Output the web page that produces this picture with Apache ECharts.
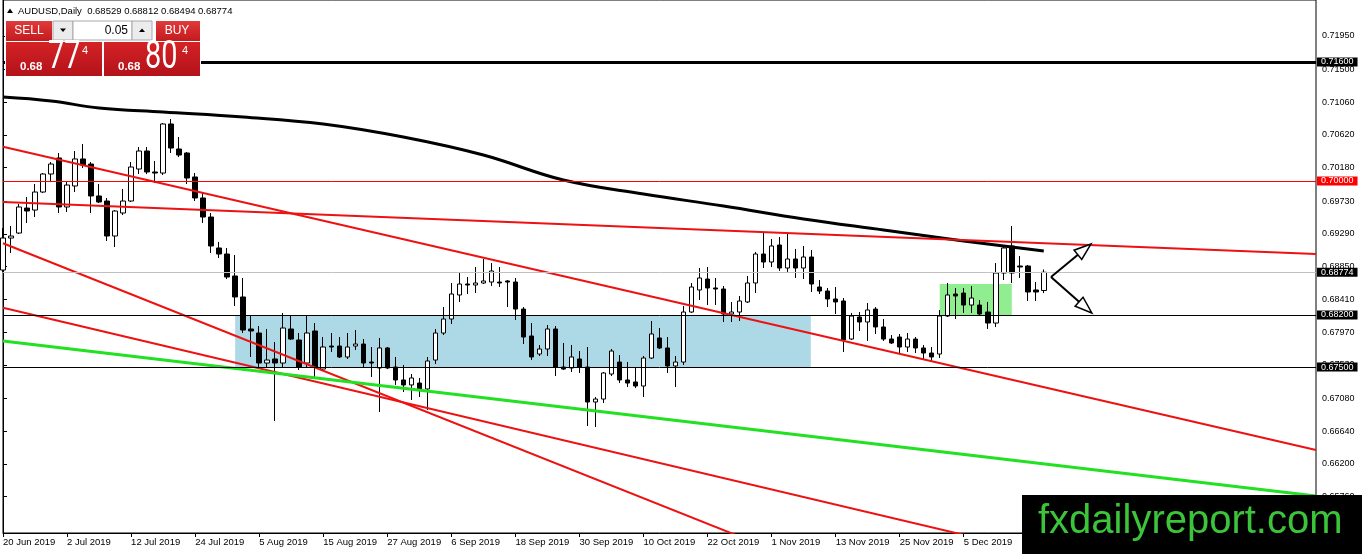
<!DOCTYPE html>
<html lang="en">
<head>
<meta charset="UTF-8">
<title>AUDUSD Daily</title>
<style>
  html, body { margin: 0; padding: 0; background: #fff; }
  #main { width: 1362px; height: 554px; }
</style>
</head>
<body>
<div id="main"></div>
<script src="https://cdn.jsdelivr.net/npm/echarts@6/dist/echarts.min.js"></script>
<script type="text/javascript">
// daily bars, 20 Jun 2019 .. 19 Dec 2019 : [open, high, low, close]
var candles = [
  [0.68804, 0.69369, 0.68778, 0.69234], [0.69234, 0.69395, 0.69033, 0.69261], [0.69301, 0.69691, 0.69288, 0.69651],
  [0.69637, 0.69785, 0.69436, 0.69597], [0.69610, 0.69960, 0.69516, 0.69852], [0.69852, 0.70107, 0.69839, 0.70094],
  [0.70094, 0.70255, 0.70000, 0.70228], [0.70309, 0.70376, 0.69570, 0.69651], [0.69651, 0.70000, 0.69584, 0.69946],
  [0.69933, 0.70403, 0.69852, 0.70296], [0.70296, 0.70497, 0.70175, 0.70215], [0.70228, 0.70255, 0.69570, 0.69799],
  [0.69799, 0.69960, 0.69704, 0.69718], [0.69731, 0.69772, 0.69194, 0.69261], [0.69261, 0.69610, 0.69113, 0.69597],
  [0.69570, 0.69893, 0.69543, 0.69731], [0.69731, 0.70255, 0.69718, 0.70188], [0.70161, 0.70457, 0.70094, 0.70403],
  [0.70403, 0.70457, 0.70094, 0.70121], [0.70121, 0.70269, 0.69973, 0.70107], [0.70107, 0.70779, 0.70081, 0.70766],
  [0.70766, 0.70833, 0.70376, 0.70443], [0.70430, 0.70591, 0.70322, 0.70349], [0.70376, 0.70390, 0.69960, 0.70040],
  [0.70054, 0.70107, 0.69731, 0.69772], [0.69772, 0.69839, 0.69436, 0.69516], [0.69516, 0.69570, 0.69033, 0.69127],
  [0.69100, 0.69181, 0.68966, 0.69019], [0.69019, 0.69100, 0.68683, 0.68710], [0.68724, 0.69006, 0.68321, 0.68442],
  [0.68442, 0.68697, 0.67958, 0.67998], [0.68012, 0.68186, 0.67636, 0.67985], [0.67958, 0.68052, 0.67488, 0.67555],
  [0.67555, 0.68012, 0.67488, 0.67595], [0.67609, 0.67837, 0.66776, 0.67555], [0.67555, 0.68227, 0.67488, 0.68025],
  [0.68012, 0.68200, 0.67864, 0.67877], [0.67864, 0.67958, 0.67461, 0.67501], [0.67555, 0.68186, 0.67488, 0.67958],
  [0.67985, 0.68092, 0.67367, 0.67501], [0.67474, 0.67904, 0.67461, 0.67770], [0.67783, 0.67958, 0.67703, 0.67770],
  [0.67783, 0.67904, 0.67622, 0.67636], [0.67636, 0.67958, 0.67609, 0.67770], [0.67783, 0.67998, 0.67730, 0.67810],
  [0.67810, 0.67877, 0.67501, 0.67555], [0.67568, 0.67770, 0.67367, 0.67555], [0.67488, 0.67891, 0.66897, 0.67757],
  [0.67757, 0.67770, 0.67474, 0.67488], [0.67501, 0.67636, 0.67260, 0.67327], [0.67327, 0.67528, 0.67165, 0.67260],
  [0.67260, 0.67407, 0.67058, 0.67354], [0.67286, 0.67354, 0.67098, 0.67206], [0.67206, 0.67636, 0.66924, 0.67582],
  [0.67595, 0.68012, 0.67542, 0.67958], [0.67958, 0.68307, 0.67931, 0.68146], [0.68146, 0.68630, 0.68079, 0.68482],
  [0.68469, 0.68764, 0.68375, 0.68616], [0.68616, 0.68710, 0.68482, 0.68603], [0.68603, 0.68845, 0.68495, 0.68630],
  [0.68630, 0.68952, 0.68616, 0.68657], [0.68643, 0.68898, 0.68589, 0.68791], [0.68643, 0.68845, 0.68576, 0.68630],
  [0.68657, 0.68670, 0.68307, 0.68643], [0.68643, 0.68697, 0.68133, 0.68280], [0.68280, 0.68307, 0.67810, 0.67904],
  [0.67918, 0.68092, 0.67595, 0.67636], [0.67676, 0.67797, 0.67649, 0.67743], [0.67743, 0.68066, 0.67649, 0.68012],
  [0.68012, 0.68052, 0.67380, 0.67501], [0.67501, 0.67824, 0.67461, 0.67474], [0.67488, 0.67797, 0.67434, 0.67636],
  [0.67609, 0.67716, 0.67421, 0.67501], [0.67501, 0.67770, 0.66709, 0.67031], [0.67031, 0.67098, 0.66695, 0.67071],
  [0.67071, 0.67434, 0.67018, 0.67421], [0.67407, 0.67743, 0.67380, 0.67716], [0.67568, 0.67662, 0.67286, 0.67327],
  [0.67327, 0.67568, 0.67233, 0.67286], [0.67300, 0.67501, 0.67219, 0.67246], [0.67246, 0.67649, 0.67098, 0.67622],
  [0.67622, 0.68119, 0.67609, 0.67945], [0.67891, 0.68025, 0.67743, 0.67757], [0.67757, 0.67904, 0.67421, 0.67515],
  [0.67515, 0.67649, 0.67233, 0.67568], [0.67568, 0.68321, 0.67528, 0.68240], [0.68240, 0.68630, 0.68227, 0.68576],
  [0.68536, 0.68831, 0.68401, 0.68697], [0.68683, 0.68845, 0.68334, 0.68563], [0.68563, 0.68697, 0.68334, 0.68549],
  [0.68549, 0.68589, 0.68106, 0.68213], [0.68213, 0.68375, 0.68106, 0.68240], [0.68240, 0.68455, 0.68119, 0.68388],
  [0.68375, 0.68724, 0.68361, 0.68630], [0.68630, 0.69046, 0.68495, 0.69019], [0.69019, 0.69315, 0.68831, 0.68912],
  [0.68912, 0.69221, 0.68845, 0.69127], [0.69140, 0.69248, 0.68791, 0.68831], [0.68831, 0.69288, 0.68778, 0.68952],
  [0.68952, 0.69087, 0.68697, 0.68831], [0.68831, 0.69127, 0.68683, 0.68979], [0.68979, 0.69073, 0.68509, 0.68616],
  [0.68576, 0.68670, 0.68482, 0.68522], [0.68522, 0.68563, 0.68307, 0.68415], [0.68415, 0.68576, 0.68213, 0.68375],
  [0.68388, 0.68428, 0.67703, 0.67864], [0.67877, 0.68227, 0.67864, 0.68186], [0.68173, 0.68240, 0.67985, 0.68106],
  [0.68106, 0.68361, 0.67851, 0.68267], [0.68280, 0.68307, 0.67945, 0.68039], [0.68039, 0.68146, 0.67851, 0.67877],
  [0.67877, 0.67931, 0.67810, 0.67824], [0.67904, 0.67945, 0.67689, 0.67770], [0.67770, 0.67958, 0.67703, 0.67877],
  [0.67877, 0.67904, 0.67689, 0.67757], [0.67757, 0.67797, 0.67609, 0.67689], [0.67689, 0.67770, 0.67582, 0.67636],
  [0.67676, 0.68267, 0.67622, 0.68186], [0.68186, 0.68630, 0.68173, 0.68469], [0.68482, 0.68563, 0.68146, 0.68455],
  [0.68495, 0.68563, 0.68227, 0.68334], [0.68334, 0.68589, 0.68227, 0.68428], [0.68334, 0.68401, 0.68200, 0.68213],
  [0.68240, 0.68375, 0.68012, 0.68092], [0.68092, 0.68898, 0.68039, 0.68764], [0.68764, 0.69127, 0.68670, 0.69100],
  [0.69127, 0.69395, 0.68630, 0.68764], [0.68858, 0.68992, 0.68697, 0.68845], [0.68858, 0.68872, 0.68388, 0.68509],
  [0.68536, 0.68643, 0.68388, 0.68509], [0.68529, 0.68812, 0.68494, 0.68774]
];

// x-axis date labels, one every 8 bars
var dateLabels = ['20 Jun 2019', '2 Jul 2019', '12 Jul 2019', '24 Jul 2019', '5 Aug 2019', '15 Aug 2019',
  '27 Aug 2019', '6 Sep 2019', '18 Sep 2019', '30 Sep 2019', '10 Oct 2019', '22 Oct 2019', '1 Nov 2019',
  '13 Nov 2019', '25 Nov 2019', '5 Dec 2019', '17 Dec 2019'];
var priceTicks = [0.6576, 0.6620, 0.6664, 0.6708, 0.6753, 0.6797, 0.6841, 0.6885, 0.6929, 0.6973,
  0.7018, 0.7062, 0.7106, 0.7150, 0.7195];

// moving average, sampled along the curve [bar, price]
var maPoints = [[0, 0.71128], [6, 0.71075], [12, 0.70981], [20, 0.70927], [30, 0.70860], [40, 0.70766],
  [50, 0.70591], [60, 0.70349], [70, 0.70013], [80, 0.69825], [90, 0.69664], [100, 0.69490],
  [110, 0.69342], [120, 0.69194], [130, 0.69060]];

// drawn trend lines [bar, price] -> [bar, price]
var redLines = [
  [[0, 0.70461], [164, 0.66386]],
  [[0, 0.69717], [164, 0.69019]],
  [[0, 0.69164], [100, 0.64882]],
  [[0, 0.68298], [130, 0.64992]]
];
var greenLine = [[0, 0.67852], [164, 0.65768]];

// zones [bar from, bar to, price top, price bottom]
var zones = [[29, 100.9, 0.6820, 0.6750], [117, 126, 0.68616, 0.6820]];
// arrows [bar, price, bar, price]
var arrows = [[130.9, 0.68710, 135.9, 0.69154], [130.9, 0.68710, 136, 0.68227]];

// horizontal levels
var levelBlack = [0.7160, 0.6820, 0.6750];
var levelRed = 0.7000;

var zoneColors = ['#add8e6', '#90ee90'];
var FONT = 'Liberation Sans';
var nSlots = 165;
var cats = [];
for (var i = 0; i < nSlots; i++) cats.push(String(i));
var last = candles[candles.length - 1];
var ohlcData = candles.map(function (c) { return [c[0], c[3], c[2], c[1]]; });

var lvlLabel = function (bg) {
    return {show: true, position: 'end', distance: 1, formatter: function (p) { return Number(p.value).toFixed(5); },
        color: '#fff', backgroundColor: bg, fontSize: 9, fontFamily: FONT, lineHeight: 9, padding: [0, 4, 0, 4]};
};
var markData = [
    {yAxis: levelBlack[0], lineStyle: {color: '#000', width: 3, type: 'solid'}, label: lvlLabel('#000')},
    {yAxis: levelRed, lineStyle: {color: '#ff0000', width: 1, type: 'solid'}, label: lvlLabel('#ff0000')},
    {yAxis: levelBlack[1], lineStyle: {color: '#000', width: 1, type: 'solid'}, label: lvlLabel('#000')},
    {yAxis: levelBlack[2], lineStyle: {color: '#000', width: 1, type: 'solid'}, label: lvlLabel('#000')},
    {yAxis: last[3], lineStyle: {color: '#c0c0c0', width: 1, type: 'solid'}, label: lvlLabel('#000')}
];

var series = [];
series.push({
    type: 'custom', xAxisIndex: 1, z: 1, silent: true,
    encode: {x: [0, 1], y: [2, 3]},
    data: zones,
    renderItem: function (params, api) {
        var a = api.coord([api.value(0), api.value(2)]);
        var b = api.coord([api.value(1), api.value(3)]);
        return {type: 'rect', shape: {x: a[0], y: a[1], width: b[0] - a[0], height: b[1] - a[1]},
            style: {fill: zoneColors[params.dataIndex]}};
    }
});
series.push({
    type: 'candlestick', xAxisIndex: 0, z: 3, silent: true, barWidth: 5,
    data: ohlcData,
    itemStyle: {color: '#fff', color0: '#000', borderColor: '#000', borderColor0: '#000', borderWidth: 1},
    markLine: {symbol: 'none', silent: true, animation: false, precision: 5, data: markData}
});
series.push({
    type: 'line', xAxisIndex: 1, z: 4, silent: true, smooth: 0.4, symbol: 'none',
    data: maPoints, lineStyle: {color: '#000', width: 3}
});
redLines.forEach(function (ln) {
    series.push({type: 'line', xAxisIndex: 1, z: 4, silent: true, symbol: 'none', clip: true,
        data: ln, lineStyle: {color: '#ee1111', width: 2}});
});
series.push({type: 'line', xAxisIndex: 1, z: 4, silent: true, symbol: 'none', clip: true,
    data: greenLine, lineStyle: {color: '#22e022', width: 3}});
series.push({
    type: 'custom', xAxisIndex: 1, z: 5, silent: true,
    encode: {x: [0, 2], y: [1, 3]},
    data: arrows,
    renderItem: function (params, api) {
        var a = api.coord([api.value(0), api.value(1)]);
        var b = api.coord([api.value(2), api.value(3)]);
        var dx = b[0] - a[0], dy = b[1] - a[1], len = Math.sqrt(dx * dx + dy * dy);
        var ux = dx / len, uy = dy / len, L = 17, W = 6;
        var bx = b[0] - ux * L, by = b[1] - uy * L;
        return {type: 'group', children: [
            {type: 'line', shape: {x1: a[0], y1: a[1], x2: bx, y2: by}, style: {stroke: '#000', lineWidth: 2}},
            {type: 'polygon', shape: {points: [b, [bx - uy * W, by + ux * W], [bx + uy * W, by - ux * W]]},
                style: {fill: '#fff', stroke: '#000', lineWidth: 1.5}}
        ]};
    }
});

function redGrad(top, bottom) {
    return new echarts.graphic.LinearGradient(0, 0, 0, 1, [{offset: 0, color: top}, {offset: 1, color: bottom}]);
}
// text centred vertically on y
function txt(x, y, s, font, fill, align, extra) {
    var el = {type: 'text', x: x, y: y, z: 101,
        style: {text: s, font: font, fill: fill, textAlign: align || 'left', align: align || 'left',
            textVerticalAlign: 'middle', verticalAlign: 'middle'}};
    if (extra) for (var k in extra) el[k] = extra[k];
    return el;
}

var header = 'AUDUSD,Daily  ' + last[0].toFixed(5) + ' ' + last[1].toFixed(5) + ' ' +
    last[2].toFixed(5) + ' ' + last[3].toFixed(5);

var graphics = [
    {type: 'polygon', z: 100, shape: {points: [[7, 13], [10, 8.5], [13, 13]]}, style: {fill: '#000'}},
    txt(18, 11, header, '9.5px ' + FONT, '#000'),
    // trade panel
    {type: 'rect', z: 100, shape: {x: 5, y: 19, width: 196, height: 58}, style: {fill: '#fff'}},
    {type: 'rect', z: 100, shape: {x: 6, y: 21, width: 46, height: 20}, style: {fill: redGrad('#e03a3a', '#c41a1e')}},
    {type: 'rect', z: 100, shape: {x: 156, y: 21, width: 44, height: 20}, style: {fill: redGrad('#e03a3a', '#c41a1e')}},
    {type: 'rect', z: 100, shape: {x: 53, y: 21, width: 20, height: 19}, style: {fill: '#ececec', stroke: '#a8a8a8', lineWidth: 1}},
    {type: 'rect', z: 100, shape: {x: 73, y: 21, width: 59, height: 19}, style: {fill: '#fff', stroke: '#a8a8a8', lineWidth: 1}},
    {type: 'rect', z: 100, shape: {x: 132, y: 21, width: 20, height: 19}, style: {fill: '#ececec', stroke: '#a8a8a8', lineWidth: 1}},
    {type: 'polygon', z: 101, shape: {points: [[60, 28.5], [66, 28.5], [63, 32]]}, style: {fill: '#000'}},
    {type: 'polygon', z: 101, shape: {points: [[139, 32], [145, 32], [142, 28.5]]}, style: {fill: '#000'}},
    {type: 'rect', z: 100, shape: {x: 6, y: 42, width: 96, height: 34}, style: {fill: redGrad('#d42326', '#b3121a')}},
    {type: 'rect', z: 100, shape: {x: 104, y: 42, width: 96, height: 34}, style: {fill: redGrad('#d42326', '#b3121a')}},
    txt(29, 31, 'SELL', '12px ' + FONT, '#fff', 'center'),
    txt(177, 31, 'BUY', '12px ' + FONT, '#fff', 'center'),
    txt(128, 30.5, '0.05', '12px ' + FONT, '#000', 'right'),
    txt(20, 67, '0.68', 'bold 11.5px ' + FONT, '#fff'),
    txt(48, 58, '77', '38px Roboto', '#fff', 'left', {scaleX: 0.76}),
    txt(82, 51, '4', '11px ' + FONT, '#fff'),
    txt(118, 67, '0.68', 'bold 11.5px ' + FONT, '#fff'),
    txt(145, 58, '80', '38px Roboto', '#fff', 'left', {scaleX: 0.76}),
    txt(182, 51, '4', '11px ' + FONT, '#fff'),
    // watermark
    {type: 'rect', z: 100, shape: {x: 1022, y: 495, width: 340, height: 59}, style: {fill: '#000'}},
    txt(1038, 522, 'fxdailyreport.com', '40px ' + FONT, '#3cc43a')
];

var myChart = echarts.init(document.getElementById('main'));
myChart.setOption({
    animation: false,
    backgroundColor: '#fff',
    grid: {left: 3, top: 0, width: 1313, height: 533, show: true, borderColor: '#000', borderWidth: 1},
    xAxis: [{
        type: 'category', data: cats, boundaryGap: false,
        axisLine: {lineStyle: {color: '#000', width: 1}},
        axisTick: {show: true, length: 4, lineStyle: {color: '#000'},
            interval: function (i) { return i % 8 === 0 && i / 8 < dateLabels.length; }},
        axisLabel: {show: true, align: 'left', margin: 4, fontSize: 9.5, fontFamily: FONT, color: '#000',
            interval: function (i) { return i % 8 === 0 && i / 8 < dateLabels.length; },
            formatter: function (v, i) { return dateLabels[i / 8] || ''; }},
        splitLine: {show: false}
    }, {
        type: 'value', min: 0, max: nSlots - 1, show: false
    }],
    yAxis: {
        type: 'value', position: 'right', min: 0.652714, max: 0.724315, scale: true,
        axisLine: {show: true, lineStyle: {color: '#000'}},
        axisTick: {show: true, length: 4, lineStyle: {color: '#000'}, customValues: priceTicks},
        axisLabel: {show: true, margin: 6, fontSize: 9, fontFamily: FONT, color: '#000', customValues: priceTicks,
            formatter: function (v) { return v.toFixed(5); }},
        splitLine: {show: false}
    },
    series: series,
    graphic: {elements: graphics}
});
</script>
</body>
</html>
